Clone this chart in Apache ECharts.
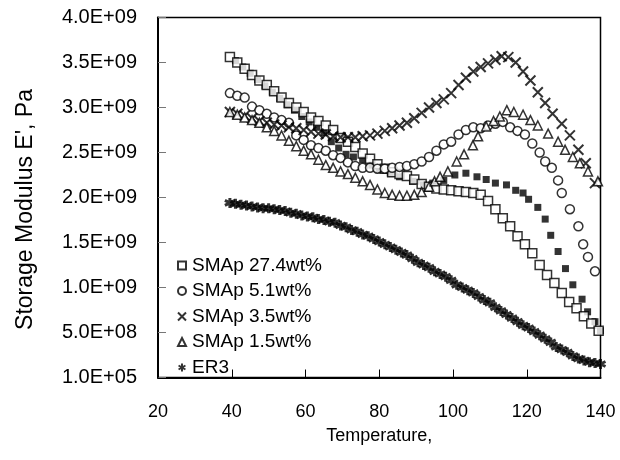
<!DOCTYPE html>
<html>
<head>
<meta charset="utf-8">
<script src="https://cdn.jsdelivr.net/npm/echarts@6/dist/echarts.min.js"></script>
<style>
  html, body { margin: 0; padding: 0; background: #fff; }
  #chart { width: 620px; height: 460px; }
</style>
</head>
<body>
<div id="chart"></div>
<script>
// values in units of 1E+09 Pa, temperature in deg C
const yTickLabels = ['1.0E+05', '5.0E+08', '1.0E+09', '1.5E+09', '2.0E+09', '2.5E+09', '3.0E+09', '3.5E+09', '4.0E+09'];
const seriesNames = ['SMAp 27.4wt%', 'SMAp 5.1wt%', 'SMAp 3.5wt%', 'SMAp 1.5wt%', 'ER3'];

const sma274 = [[39.5,3.56],[41.5,3.50],[43.5,3.43],[45.5,3.36],[47.5,3.30],[49.5,3.25],[51.5,3.18],[53.5,3.11],[55.5,3.05],[57.5,3.00],[59.5,2.95],[61.5,2.89],[63.5,2.85],[65.5,2.80],[67.5,2.75],[69.5,2.66],[71.5,2.62],[73.5,2.56],[75.5,2.49],[77.5,2.43],[79.5,2.37],[81.5,2.32],[83.5,2.28],[85.5,2.26],[87.5,2.24],[89.5,2.20],[91.5,2.15],[93.5,2.12],[95.5,2.10],[97.5,2.09],[99.5,2.08],[101.5,2.07],[103.5,2.06],[105.5,2.05],[107.5,2.03],[109.5,1.96],[111.5,1.87],[113.5,1.77],[115.5,1.68],[117.5,1.57],[119.5,1.48],[121.5,1.38],[123.5,1.25],[125.5,1.14],[127.5,1.05],[129.5,0.94],[131.5,0.84],[133.5,0.77],[135.5,0.68],[137.5,0.60],[139.5,0.52]];
const sma51 = [[39.5,3.16],[41.5,3.13],[43.5,3.11],[45.5,3.01],[47.5,2.97],[49.5,2.93],[51.5,2.89],[53.5,2.86],[55.5,2.83],[57.5,2.69],[59.5,2.64],[61.5,2.58],[63.5,2.55],[65.5,2.52],[67.5,2.47],[69.5,2.44],[71.5,2.39],[73.5,2.35],[75.5,2.33],[77.5,2.33],[79.5,2.32],[81.5,2.32],[83.5,2.33],[85.5,2.34],[87.5,2.35],[89.5,2.37],[91.5,2.40],[93.5,2.45],[95.5,2.52],[97.5,2.59],[99.5,2.62],[101.5,2.70],[103.5,2.75],[105.5,2.78],[107.5,2.77],[109.5,2.80],[111.5,2.82],[113.5,2.84],[115.5,2.78],[117.5,2.74],[119.5,2.70],[121.5,2.60],[123.5,2.50],[125,2.40],[126.8,2.33],[128.5,2.19],[129.5,2.05],[131.7,1.87],[134,1.68],[135.3,1.48],[136.6,1.34],[138.5,1.18]];
const sma35 = [[39.5,2.95],[41.5,2.93],[43.5,2.91],[45.5,2.88],[47.5,2.85],[49.5,2.83],[51.5,2.81],[53.5,2.80],[55.5,2.78],[57.5,2.77],[59.5,2.75],[61.5,2.73],[63.5,2.71],[65.5,2.70],[67.5,2.68],[69.5,2.67],[71.5,2.67],[73.5,2.67],[75.5,2.68],[77.5,2.69],[79.5,2.71],[81.5,2.74],[83.5,2.77],[85.5,2.80],[87.5,2.83],[89.5,2.88],[91.5,2.94],[93.5,3.00],[95.5,3.05],[97.5,3.09],[99.5,3.16],[101.5,3.25],[103.5,3.33],[105.5,3.40],[107.5,3.45],[109.5,3.49],[111.5,3.53],[113.2,3.57],[115,3.56],[117,3.50],[119,3.40],[121,3.30],[123,3.17],[125,3.05],[127,2.93],[129.5,2.82],[131.7,2.69],[134,2.53],[136,2.38],[138.5,2.16]];
const sma15 = [[39.5,2.95],[41.5,2.92],[43.5,2.89],[45.5,2.86],[47.5,2.83],[49.5,2.78],[51.5,2.74],[53.5,2.69],[55.5,2.63],[57.5,2.57],[59.5,2.52],[61.5,2.48],[63.5,2.42],[65.5,2.36],[67.5,2.33],[69.5,2.29],[71.5,2.26],[73.5,2.22],[75.5,2.18],[77.5,2.14],[79.5,2.09],[81.5,2.05],[83.5,2.03],[85.5,2.02],[87.5,2.02],[89.5,2.03],[91.5,2.06],[93.5,2.12],[95,2.18],[96.5,2.23],[98.6,2.29],[101,2.40],[103,2.48],[105.4,2.58],[106.8,2.68],[109,2.79],[111,2.85],[112.7,2.90],[114.6,2.97],[116.5,2.95],[119,2.92],[121,2.86],[123,2.80],[125.8,2.71],[128.5,2.62],[130.4,2.53],[132.5,2.45],[134.4,2.38],[136.6,2.29],[139.3,2.18]];
const er3 = [[39.5,1.94],[41,1.93],[42.5,1.92],[44,1.91],[45.5,1.90],[47,1.89],[48.5,1.88],[50,1.88],[51.5,1.87],[53,1.86],[54.5,1.85],[56,1.83],[57.5,1.82],[59,1.80],[60.5,1.79],[62,1.78],[63.5,1.76],[65,1.75],[66.5,1.73],[68,1.72],[69.5,1.69],[71,1.67],[72.5,1.64],[74,1.62],[75.5,1.59],[77,1.57],[78.5,1.54],[80,1.51],[81.5,1.48],[83,1.45],[84.5,1.42],[86,1.39],[87.5,1.36],[89,1.32],[90.5,1.28],[92,1.25],[93.5,1.22],[95,1.18],[96.5,1.15],[98,1.12],[99.5,1.08],[101,1.03],[102.5,1.00],[104,0.97],[105.5,0.94],[107,0.90],[108.5,0.86],[110,0.83],[111.5,0.78],[113,0.74],[114.5,0.70],[116,0.66],[117.5,0.62],[119,0.58],[120.5,0.55],[122,0.51],[123.5,0.47],[125,0.43],[126.5,0.39],[128,0.34],[129.5,0.31],[131,0.28],[132.5,0.24],[134,0.21],[135.5,0.19],[137,0.17],[138.5,0.16],[140,0.15]];
// filled squares, not in the legend
const filledSq = [[41,3.52],[43,3.45],[45,3.38],[47,3.31],[49,3.24],[51,3.17],[53,3.10],[55,3.03],[57,2.97],[59,2.90],[61,2.84],[63,2.78],[65,2.72],[67,2.62],[69,2.55],[71,2.48],[73,2.45],[75.5,2.42],[78,2.36],[80,2.31],[83,2.27],[85.5,2.23],[89,2.18],[92,2.14],[94.5,2.16],[97.5,2.19],[100.5,2.25],[103.5,2.27],[106.5,2.23],[109,2.20],[111.5,2.16],[114.5,2.14],[117,2.08],[119,2.05],[120.5,1.98],[123,1.89],[125,1.76],[126.5,1.58],[128.5,1.40],[130.5,1.21],[132.5,1.03],[135,0.87],[136.5,0.73],[138.5,0.62],[140,0.52]];

const font = "'Liberation Sans', Arial, sans-serif";
const openStyle = { color: '#fff', borderColor: '#000', borderWidth: 1.5 };
const strokeStyle = { color: '#000', borderColor: '#000', borderWidth: 2 };
const crossPath = 'path://M0,0L10,10M10,0L0,10';
const starPath = 'path://M5,0L5,10M0.7,2.5L9.3,7.5M0.7,7.5L9.3,2.5';

const chart = echarts.init(document.getElementById('chart'), null, { renderer: 'canvas' });
chart.setOption({
  animation: false,
  backgroundColor: '#fff',
  textStyle: { fontFamily: font, color: '#000' },
  grid: {
    left: 158, right: 19.5, top: 17.5, bottom: 82.5,
    show: true, borderColor: '#000', borderWidth: 1.5
  },
  legend: {
    data: seriesNames,
    orient: 'vertical',
    left: 172,
    top: 251,
    itemWidth: 8,
    itemHeight: 8,
    itemGap: 6.5,
    textStyle: { fontSize: 19, fontFamily: font, color: '#000', padding: [0, 0, 0, 1] }
  },
  xAxis: {
    type: 'value',
    min: 20, max: 140, interval: 20,
    name: 'Temperature,',
    nameLocation: 'middle',
    nameGap: 50,
    nameTextStyle: { fontSize: 18, fontFamily: font, color: '#000' },
    axisLine: { lineStyle: { color: '#000', width: 2 } },
    axisTick: { inside: true, length: 8, lineStyle: { color: '#000' } },
    axisLabel: { fontSize: 18, margin: 26, color: '#000', fontFamily: font },
    splitLine: { show: false }
  },
  yAxis: {
    type: 'value',
    min: 0, max: 4, interval: 0.5,
    name: "Storage Modulus E', Pa",
    nameLocation: 'middle',
    nameGap: 121,
    nameTextStyle: { fontSize: 23, fontFamily: font, color: '#000', padding: [0, 24, 0, 0] },
    axisLine: { lineStyle: { color: '#000', width: 2 } },
    axisTick: { inside: true, length: 8, lineStyle: { color: '#777' } },
    axisLabel: {
      fontSize: 20, margin: 21, color: '#000', fontFamily: font,
      formatter: v => yTickLabels[Math.round(v / 0.5)]
    },
    splitLine: { show: false }
  },
  series: [
    { name: 'filled', type: 'scatter', data: filledSq, symbol: 'rect', symbolSize: 7,
      itemStyle: { color: '#000' } },
    { name: seriesNames[0], type: 'scatter', data: sma274, symbol: 'rect', symbolSize: 9,
      itemStyle: openStyle },
    { name: seriesNames[1], type: 'scatter', data: sma51, symbol: 'circle', symbolSize: 9,
      itemStyle: openStyle },
    { name: seriesNames[2], type: 'scatter', data: sma35, symbol: crossPath, symbolSize: 10,
      itemStyle: strokeStyle },
    { name: seriesNames[3], type: 'scatter', data: sma15, symbol: 'triangle', symbolSize: 9,
      itemStyle: openStyle },
    { name: seriesNames[4], type: 'scatter', data: er3, symbol: starPath, symbolSize: 10,
      itemStyle: { color: '#000', borderColor: '#000', borderWidth: 3 } }
  ]
});
</script>
</body>
</html>
